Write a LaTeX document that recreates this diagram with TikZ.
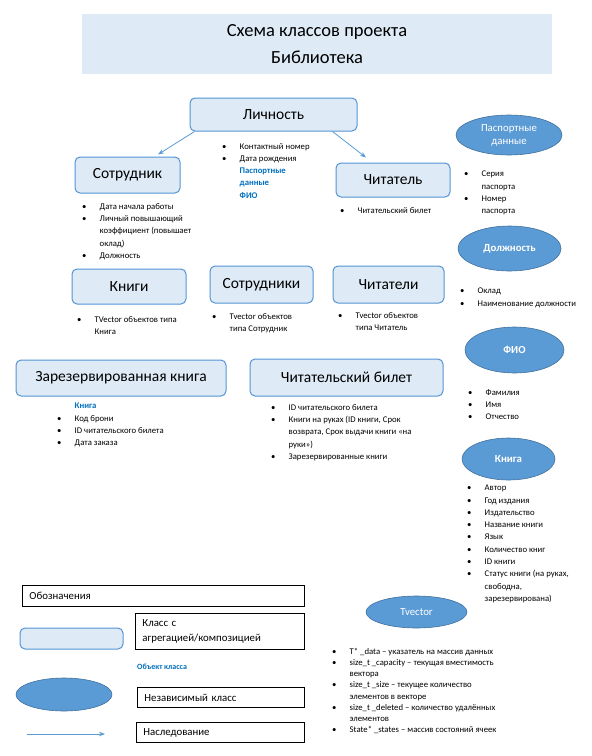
\documentclass[tikz,border=0pt]{standalone}
\usepackage{fontspec}
\setmainfont{Carlito}
\usetikzlibrary{shapes.geometric,arrows.meta}

\definecolor{boxfill}{RGB}{222,235,247}
\definecolor{boxline}{RGB}{84,148,212}
\definecolor{ovalfill}{RGB}{91,155,213}
\definecolor{ovalline}{RGB}{65,113,156}
\definecolor{objblue}{RGB}{0,112,192}
\definecolor{arrowblue}{RGB}{91,155,213}

\newcommand{\itm}{\makebox[17.5pt][l]{\textbullet}}
\newcommand{\cnt}{\hspace*{17.5pt}}

\begin{document}
\begin{tikzpicture}[x=1pt, y=-1pt,
    cls/.style={draw=boxline, fill=boxfill, rounded corners=5pt, line width=1pt, inner sep=0pt, font=\fontsize{15.5}{18}\selectfont},
    oval/.style={ellipse, draw=ovalline, line width=0.6pt, fill=ovalfill, text=white, inner sep=0pt, align=center, font=\fontsize{10.8}{13}\selectfont},
    attr/.style={anchor=north west, align=left, inner sep=0pt, font=\fontsize{8.7}{12.3}\selectfont},
    legbox/.style={draw=black, line width=0.9pt, anchor=north west, align=left, inner xsep=7pt, inner ysep=0pt, font=\fontsize{10.8}{15}\selectfont},
    inherit/.style={draw=arrowblue, line width=0.8pt, -{Stealth[length=6pt,width=4.5pt]}}
]
    \fill[white] (0,0) rectangle (592,756);
    \useasboundingbox (0,0) rectangle (592,756);

    % title
    \node[fill=boxfill, minimum width=470pt, minimum height=60pt, align=center, font=\fontsize{18.5}{27}\selectfont] (title) at (317,44) {Схема классов проекта\\Библиотека};

    % classes
    \node[cls, minimum width=167pt, minimum height=33pt] (lich) at (273.5,114.5) {Личность};
    \node[cls, minimum width=105pt, minimum height=36pt] (sotr) at (127.5,175) {Сотрудник};
    \node[cls, minimum width=114pt, minimum height=34pt] (chit) at (393,180) {Читатель};
    \node[cls, minimum width=114pt, minimum height=35pt] (knigi) at (129,286.5) {Книги};
    \node[cls, minimum width=103pt, minimum height=37pt] (sotrs) at (261.5,284.5) {Сотрудники};
    \node[cls, minimum width=111pt, minimum height=37pt] (chits) at (388.5,284.5) {Читатели};
    \node[cls, minimum width=210pt, minimum height=36pt] (zarez) at (121,378) {Зарезервированная книга};
    \node[cls, minimum width=193pt, minimum height=37pt] (bilet) at (346.5,377.5) {Читательский билет};

    % inheritance
    \coordinate (sotrEnd) at ([xshift=30.5pt,yshift=2pt]sotr.north);
    \coordinate (chitEnd) at ([xshift=-27pt,yshift=5pt]chit.north);
    \draw[inherit] ([xshift=5pt]lich.south west) -- (sotrEnd);
    \draw[inherit] ([xshift=-25pt]lich.south east) -- (chitEnd);

    % fields
    \node[attr] (lichAttr) at (222,143) {\itm Контактный номер\\ \itm Дата рождения\\
        \cnt\textcolor{objblue}{\bfseries Паспортные}\\ \cnt\textcolor{objblue}{\bfseries данные}\\ \cnt\textcolor{objblue}{\bfseries ФИО}};
    \node[attr] (sotrAttr) at (82,203) {\itm Дата начала работы\\ \itm Личный повышающий\\
        \cnt коэффициент (повышает\\ \cnt оклад)\\ \itm Должность};
    \node[attr] (chitAttr) at (340,207) {\itm Читательский билет};
    \node[attr] (knigiAttr) at (77,316) {\itm TVector объектов типа\\ \cnt Книга};
    \node[attr] (sotrsAttr) at (212,313) {\itm Tvector объектов\\ \cnt типа Сотрудник};
    \node[attr] (chitsAttr) at (338,312) {\itm Tvector объектов\\ \cnt типа Читатель};
    \node[attr] (zarezAttr) at (57,403) {\cnt\textcolor{objblue}{\bfseries Книга}\\ \itm Код брони\\
        \itm ID читательского билета\\ \itm Дата заказа};
    \node[attr] (biletAttr) at (271,404) {\itm ID читательского билета\\ \itm Книги на руках (ID книги, Срок\\
        \cnt возврата, Срок выдачи книги «на\\ \cnt руки»)\\ \itm Зарезервированные книги};

    % independent classes
    \node[oval, minimum width=106pt, minimum height=40pt] (pasp) at (509,135) {Паспортные\\данные};
    \node[oval, minimum width=103pt, minimum height=45pt, font=\fontsize{10.8}{13}\selectfont\bfseries] (dolzh) at (509.5,248.5) {Должность};
    \node[oval, minimum width=99pt, minimum height=46pt, font=\fontsize{10.8}{13}\selectfont\bfseries] (fio) at (514.5,350) {ФИО};
    \node[oval, minimum width=93pt, minimum height=42pt, font=\fontsize{10.8}{13}\selectfont\bfseries] (kniga) at (508.5,459) {Книга};
    \node[oval, minimum width=101pt, minimum height=32pt] (tvec) at (416.5,612) {Tvector};

    \node[attr] (paspAttr) at (464,171) {\itm Серия\\ \cnt паспорта\\ \itm Номер\\ \cnt паспорта};
    \node[attr] (dolzhAttr) at (460,288) {\itm Оклад\\ \itm Наименование должности};
    \node[attr] (fioAttr) at (468,389) {\itm Фамилия\\ \itm Имя\\ \itm Отчество};
    \node[attr] (knigaAttr) at (467,485) {\itm Автор\\ \itm Год издания\\ \itm Издательство\\ \itm Название книги\\
        \itm Язык\\ \itm Количество книг\\ \itm ID книги\\ \itm Статус книги (на руках,\\ \cnt свободна,\\ \cnt зарезервирована)};
    \node[attr, font=\fontsize{8.7}{11.2}\selectfont] (tvecAttr) at (332,648) {\itm T* \_data – указатель на массив данных\\
        \itm size\_t \_capacity – текущая вместимость\\ \cnt вектора\\
        \itm size\_t \_size – текущее количество\\ \cnt элементов в векторе\\
        \itm size\_t \_deleted – количество удалённых\\ \cnt элементов\\
        \itm State* \_states – массив состояний ячеек};

    % legend
    \node[legbox, text width=268pt, minimum height=21pt] (legTitle) at (22,585) {Обозначения};
    \node[cls, minimum width=103pt, minimum height=21pt] (legCls) at (71.5,638.5) {};
    \node[legbox, text width=155pt, minimum height=36pt] (legClsText) at (135,613) {Класс с\\агрегацией/композицией};
    \node[anchor=west, inner sep=0pt, text=objblue, font=\fontsize{8}{10}\selectfont\bfseries] (legObj) at (137,667) {Объект класса};
    \node[oval, minimum width=96pt, minimum height=33pt] (legOval) at (64,694.5) {};
    \node[legbox, text width=153pt, minimum height=20pt] (legOvalText) at (137,687) {Независимый класс};
    \coordinate (legArrA) at (27,734);
    \coordinate (legArrB) at (105,734);
    \draw[inherit] (legArrA) -- (legArrB);
    \node[legbox, text width=154pt, minimum height=20pt] (legArrText) at (136,722) {Наследование};
\end{tikzpicture}
\end{document}
